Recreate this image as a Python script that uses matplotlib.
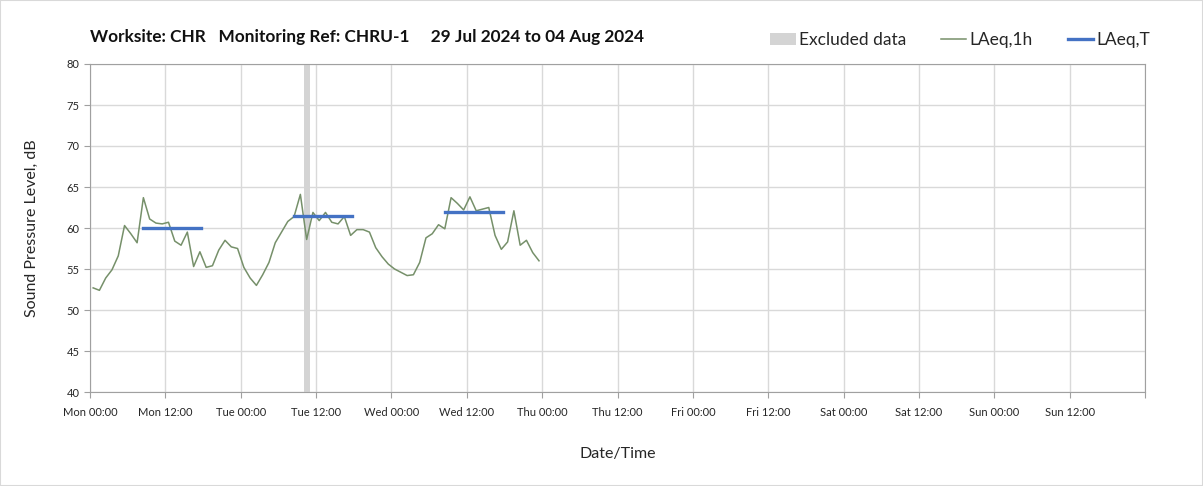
import matplotlib
matplotlib.use("Agg")
import matplotlib.pyplot as plt
from matplotlib.lines import Line2D
from matplotlib.patches import Patch, Rectangle
import numpy as np

plt.rcParams['font.family'] = ['Lato', 'DejaVu Sans']

# hourly LAeq,1h values (dB), starting Mon 00:00
laeq_1h = [52.7, 52.4, 53.9, 54.9, 56.6, 60.3, 59.3, 58.2, 63.7, 61.1,
           60.6, 60.5, 60.7, 58.4, 57.9, 59.5, 55.3, 57.1, 55.2, 55.4,
           57.3, 58.5, 57.7, 57.5, 55.2, 53.9, 53.0, 54.3, 55.8, 58.2,
           59.5, 60.8, 61.4, 64.1, 58.6, 61.9, 60.9, 61.9, 60.7, 60.5,
           61.4, 59.1, 59.8, 59.8, 59.5, 57.6, 56.5, 55.6, 55.0, 54.6,
           54.2, 54.3, 55.8, 58.8, 59.3, 60.4, 59.9, 63.7, 63.0, 62.2,
           63.8, 62.1, 62.3, 62.5, 59.1, 57.4, 58.3, 62.1, 57.9, 58.5,
           57.0, 56.0]
hours = np.arange(len(laeq_1h)) + 0.5

# LAeq,T daytime periods (hours from Mon 00:00)
laeqT_start = [8.5, 32.5, 56.5]
laeqT_end = [17.7, 41.7, 65.7]
laeqT_value = [60.0, 61.5, 62.0]

# excluded period
excl_start = [34]
excl_end = [35]

tick_hours = list(range(0, 169, 12))
tick_labels = ["Mon 00:00", "Mon 12:00", "Tue 00:00", "Tue 12:00", "Wed 00:00",
               "Wed 12:00", "Thu 00:00", "Thu 12:00", "Fri 00:00", "Fri 12:00",
               "Sat 00:00", "Sat 12:00", "Sun 00:00", "Sun 12:00", ""]

W, H = 1203, 486
fig = plt.figure(figsize=(W / 100, H / 100), dpi=100)
ax = fig.add_axes([90 / W, (H - 392) / H, 1055 / W, 328 / H])

for s, e in zip(excl_start, excl_end):
    ax.axvspan(s, e, color='#d4d4d4', lw=0, zorder=1)

ax.plot(hours, laeq_1h, color='#76906a', lw=1.1, zorder=3)
for s, e, v in zip(laeqT_start, laeqT_end, laeqT_value):
    ax.plot([s, e], [v, v], color='#4472c4', lw=2.4, zorder=4)

ax.set_xlim(0, 168)
ax.set_ylim(40, 80)
ax.set_yticks(range(40, 81, 5))
ax.set_xticks(tick_hours)
ax.set_xticklabels(tick_labels)
ax.grid(True, color='#d9d9d9', lw=1)
ax.set_axisbelow(True)
for sp in ax.spines.values():
    sp.set_color('#a0a0a0')
ax.tick_params(axis='both', colors='#a0a0a0', labelcolor='#262626',
               labelsize=8, length=4, direction='out')
ax.tick_params(axis='x', pad=7)

ax.set_ylabel("Sound Pressure Level, dB", fontsize=11.5, color='#262626', labelpad=20)
ax.set_xlabel("Date/Time", fontsize=11.5, color='#262626', labelpad=21)

fig.text(90 / W, 1 - 37 / H,
         "Worksite: CHR   Monitoring Ref: CHRU-1     29 Jul 2024 to 04 Aug 2024",
         fontsize=12.4, fontweight='bold', color='#111111', va='center', ha='left')

handles = [Patch(facecolor='#d4d4d4', edgecolor='none'),
           Line2D([0], [0], color='#76906a', lw=1.1),
           Line2D([0], [0], color='#4472c4', lw=2.4)]
fig.legend(handles, ["Excluded data", "LAeq,1h", "LAeq,T"], ncol=3,
           loc='center right', bbox_to_anchor=(1150 / W, 1 - 40 / H),
           frameon=False, fontsize=12.5, handlelength=1.45, handletextpad=0.2,
           columnspacing=2.0, borderpad=0, borderaxespad=0,
           labelcolor='#262626')

fig.add_artist(Rectangle((0, 0), 1, 1, transform=fig.transFigure, fill=False,
                         edgecolor='#d9d9d9', lw=1.5))

fig.savefig("out.png", dpi=100)
